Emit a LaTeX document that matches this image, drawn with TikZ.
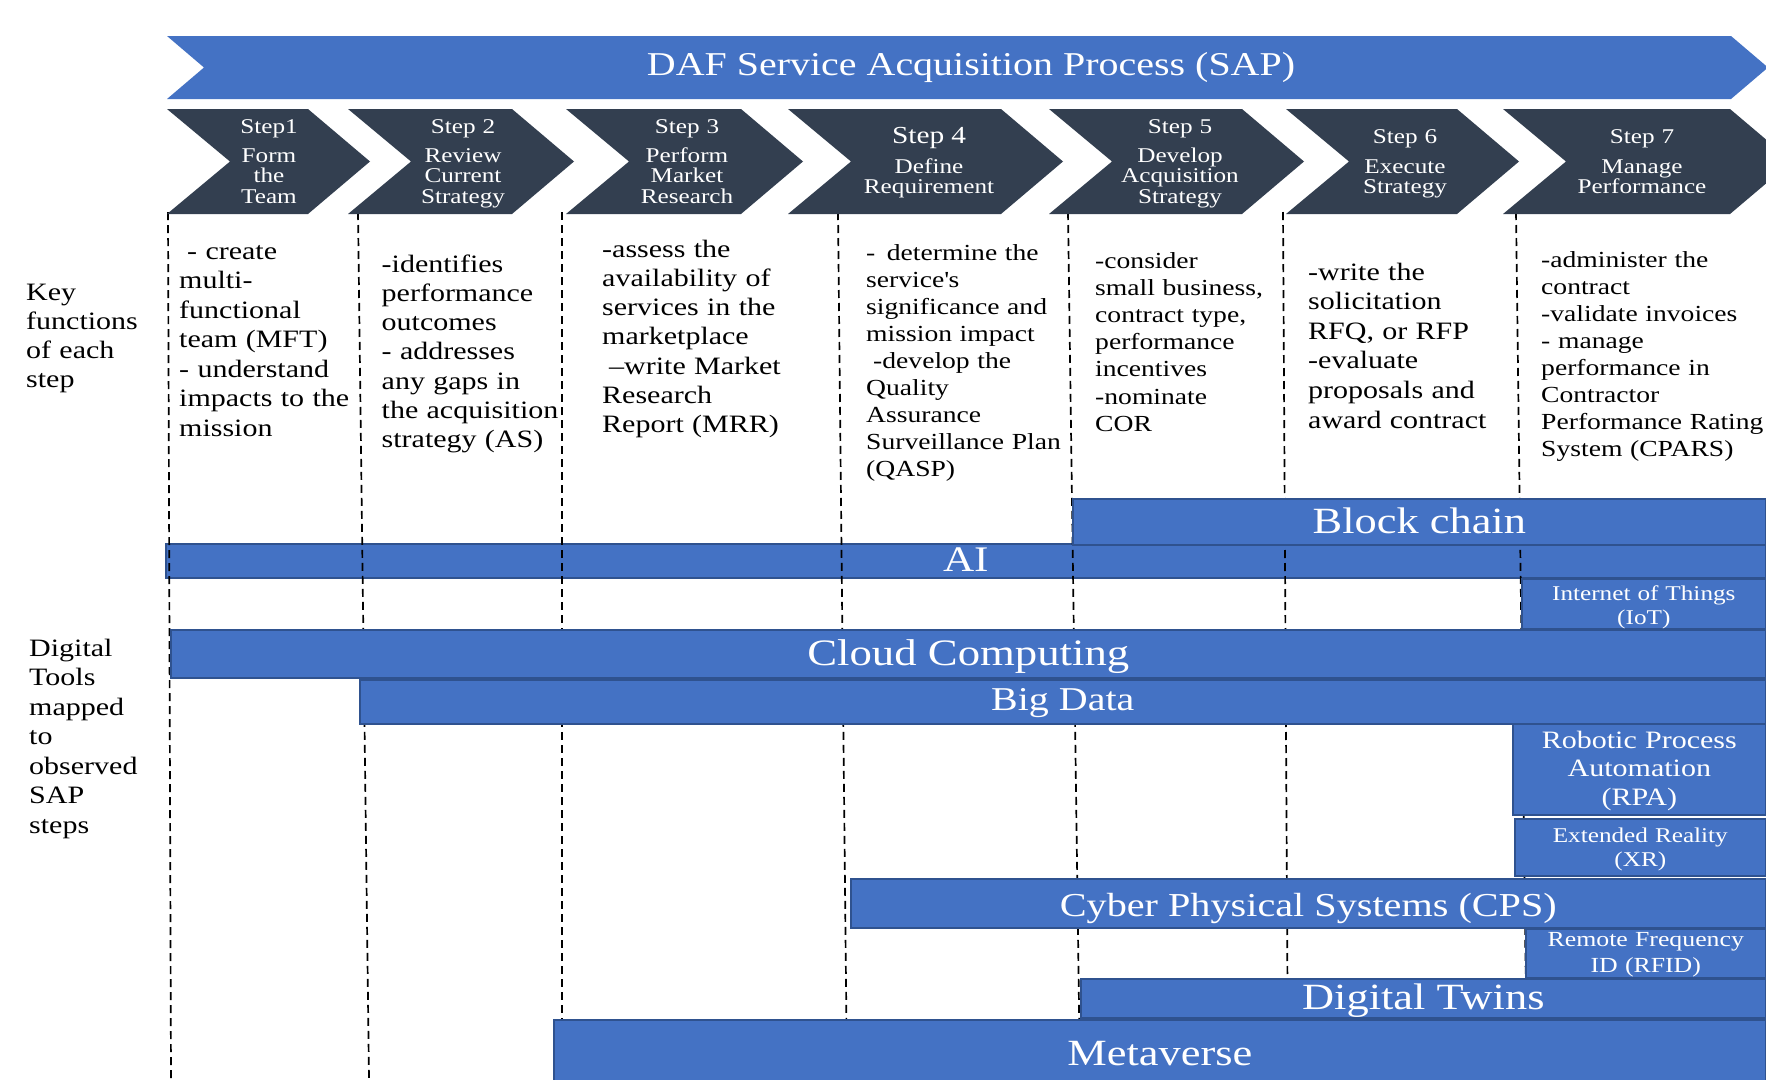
\documentclass[tikz,border=0pt]{standalone}
\usepackage{fontspec}
\setmainfont{Liberation Serif}[FakeStretch=1.2]
\newcommand\setfs[2]{\fontsize{#1}{#2}\selectfont}
\definecolor{bannerblue}{HTML}{4472C4}
\definecolor{barblue}{HTML}{4472C4}
\definecolor{barline}{HTML}{2F528F}
\definecolor{chevfill}{HTML}{333F50}
\begin{document}
\begin{tikzpicture}[x=1pt,y=-1pt,
  bar/.style={rectangle, fill=barblue, draw=barline, line width=1.6pt, inner sep=0pt, anchor=north west},
  barlbl/.style={anchor=base, inner sep=0pt, text=white},
  mlbl/.style={barlbl, align=center, text width=260pt},
  chevtxt/.style={anchor=base, inner sep=0pt, align=center, text width=180pt, text=white},
  coltxt/.style={anchor=base west, inner sep=0pt, align=left, text width=260pt},
  divider/.style={draw=black, line width=1.7pt, dash pattern=on 8pt off 5pt},
  chevron/.style={fill=chevfill}]

\useasboundingbox (0,0) rectangle (1766,1079);
\clip (0,0) rectangle (1766,1079);
\fill[white] (0,0) rectangle (1766,1079);

% process banner
\fill[bannerblue] (167,36) -- (1731,36) -- (1768,67.5) -- (1731,99) -- (167,99) -- (204,67.5) -- cycle;
\node[anchor=base, inner sep=0pt, text=white, font=\setfs{33.3}{40}] (title) at (971,75) {DAF Service Acquisition Process (SAP)};

% AI bar sits beneath the step dividers
\node[bar, minimum width=1600pt, minimum height=34pt] (ai) at (165,543) {};

% step dividers
\foreach \i/\xt/\xb in {1/168/171, 2/358/369, 3/562/562, 4/838/847, 5/1068/1080, 6/1283/1288, 7/1516/1527} {
  \coordinate (d\i t) at (\xt,212);
  \coordinate (d\i b) at (\xb,1079);
  \draw[divider] (d\i t) -- (d\i b);
}

% step chevrons
\foreach \l/\s in {167/308, 348/512, 566/741, 788/1001, 1049/1242, 1286/1457, 1503/1730} {
  \fill[chevron] (\l,109) -- (\s,109) -- (\s+62,161.5) -- (\s,214) -- (\l,214) -- (\l+63,161.5) -- cycle;
}
\node[chevtxt, font=\setfs{21}{20.5}] (s1) at (269,133) {Step1\\[8.5pt]Form\\the\\Team};
\node[chevtxt, font=\setfs{21}{20.5}] (s2) at (463,133) {Step 2\\[8.5pt]Review\\Current\\Strategy};
\node[chevtxt, font=\setfs{21}{20.5}] (s3) at (687,133) {Step 3\\[8.5pt]Perform\\Market\\Research};
\node[chevtxt, font=\setfs{21}{20.5}] (s4) at (929,143) {{\setfs{24.5}{20.5}Step 4}\\[9.5pt]Define\\Requirement};
\node[chevtxt, font=\setfs{21}{20.5}] (s5) at (1180,133) {Step 5\\[8.5pt]Develop\\Acquisition\\Strategy};
\node[chevtxt, font=\setfs{21}{20.5}] (s6) at (1405,143) {Step 6\\[9.5pt]Execute\\Strategy};
\node[chevtxt, font=\setfs{21}{20.5}] (s7) at (1642,143) {Step 7\\[9.5pt]Manage\\Performance};

% row headings
\node[coltxt, font=\setfs{25}{29.3}] (keyf) at (26,300) {Key\\functions\\of each\\step};
\node[coltxt, font=\setfs{25}{29.5}] (tools) at (29,656) {Digital\\Tools\\mapped\\to\\observed\\SAP\\steps};

% key functions of each step
\node[coltxt, font=\setfs{25}{29.5}] (f1) at (179,259) {\hspace*{8pt}- create\\multi-\\functional\\team (MFT)\\- understand\\impacts to the\\mission};
\node[coltxt, font=\setfs{25}{29.3}] (f2) at (381.5,272) {-identifies\\performance\\outcomes\\- addresses\\any gaps in\\the acquisition\\strategy (AS)};
\node[coltxt, font=\setfs{25}{29.3}] (f3) at (602,257) {-assess the\\availability of\\services in the\\marketplace\\\hspace*{7pt}–write Market\\Research\\Report (MRR)};
\node[coltxt, font=\setfs{23}{27.1}] (f4) at (866,260) {- \,determine the\\service\textquotesingle s\\significance and\\mission impact\\\hspace*{7pt}-develop the\\Quality\\Assurance\\Surveillance Plan\\(QASP)};
\node[coltxt, font=\setfs{23}{27.2}] (f5) at (1095,268) {-consider\\small business,\\contract type,\\performance\\incentives\\-nominate\\COR};
\node[coltxt, font=\setfs{25}{29.6}] (f6) at (1308,280) {-write the\\solicitation\\RFQ, or RFP\\-evaluate\\proposals and\\award contract};
\node[coltxt, font=\setfs{23}{27.1}] (f7) at (1541,267) {-administer the\\contract\\-validate invoices\\- manage\\performance in\\Contractor\\Performance Rating\\System (CPARS)};

% digital tool bars
\node[barlbl, font=\setfs{36}{40}] (ailbl) at (ai.center |- 0,571) {AI};
\node[bar, minimum width=693pt, minimum height=46pt] (blk) at (1072,498) {};
\node[barlbl, font=\setfs{37}{40}] (blklbl) at (blk.center |- 0,533) {Block chain};
\node[bar, minimum width=244pt, minimum height=50pt] (iot) at (1521,578) {};
\node[mlbl, font=\setfs{21}{24}] (iotlbl) at (iot.center |- 0,600) {Internet of Things\\(IoT)};
\node[bar, minimum width=1595pt, minimum height=48pt] (cloud) at (170,629) {};
\node[barlbl, font=\setfs{37.3}{40}] (cloudlbl) at (cloud.center |- 0,665) {Cloud Computing};
\node[bar, minimum width=1406pt, minimum height=44pt] (big) at (359,679) {};
\node[barlbl, font=\setfs{33.3}{40}] (biglbl) at (big.center |- 0,710) {Big Data};
\node[bar, minimum width=253pt, minimum height=91pt] (rpa) at (1512,723) {};
\node[mlbl, font=\setfs{25}{28.5}] (rpalbl) at (rpa.center |- 0,748) {Robotic Process\\Automation\\(RPA)};
\node[bar, minimum width=251pt, minimum height=57pt] (xr) at (1514,818) {};
\node[mlbl, font=\setfs{21}{24}] (xrlbl) at (xr.center |- 0,842) {Extended Reality\\(XR)};
\node[bar, minimum width=915pt, minimum height=49pt] (cps) at (850,878) {};
\node[barlbl, font=\setfs{33.5}{40}] (cpslbl) at (cps.center |- 0,916) {Cyber Physical Systems (CPS)};
\node[bar, minimum width=240pt, minimum height=49pt] (rfid) at (1525,928) {};
\node[mlbl, font=\setfs{21.5}{26}] (rfidlbl) at (rfid.center |- 0,946) {Remote Frequency\\ID (RFID)};
\node[bar, minimum width=685pt, minimum height=39pt] (dt) at (1080,978) {};
\node[barlbl, font=\setfs{37}{40}] (dtlbl) at (dt.center |- 0,1009) {Digital Twins};
\node[bar, minimum width=1212pt, minimum height=76pt] (meta) at (553,1019) {};
\node[barlbl, font=\setfs{37}{40}] (metalbl) at (meta.center |- 0,1065) {Metaverse};
\end{tikzpicture}
\end{document}
